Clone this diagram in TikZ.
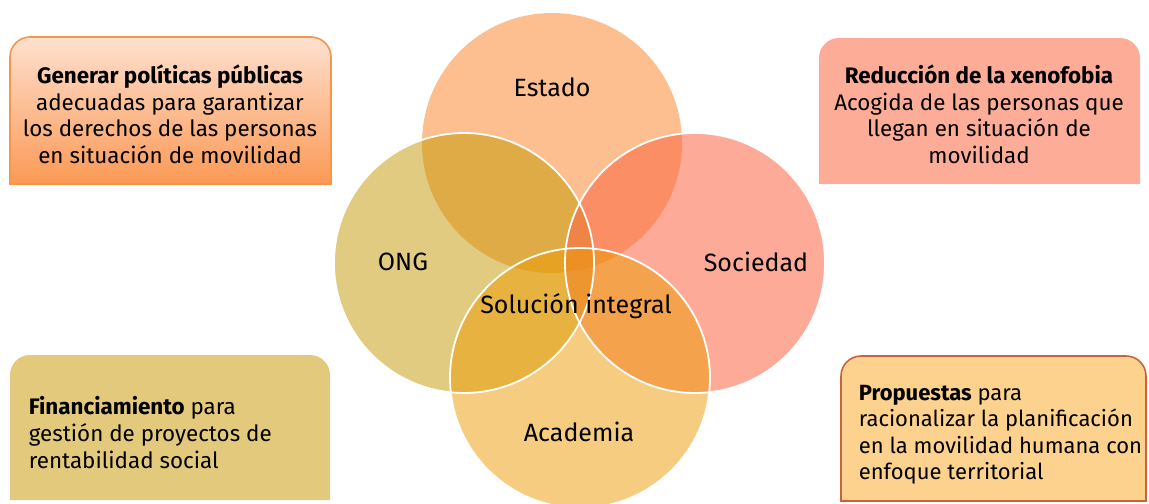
\documentclass[tikz,border=0pt]{standalone}
\usepackage{fontspec}
\setmainfont{Fira Sans}
\usepackage{tikz}
\usetikzlibrary{positioning}
\definecolor{fillEstado}{HTML}{FB7F1F}
\definecolor{fillOng}{HTML}{C39701}
\definecolor{fillSociedad}{HTML}{FB6644}
\definecolor{fillAcademia}{HTML}{ED9B01}
\definecolor{boxTopLight}{HTML}{FEE0CF}
\definecolor{boxTopDark}{HTML}{FB9955}
\definecolor{boxRimOrange}{HTML}{F79646}
\definecolor{boxSalmon}{HTML}{FDAD97}
\definecolor{boxKhaki}{HTML}{E2C97C}
\definecolor{boxSand}{HTML}{FDD28E}
\definecolor{boxRimRed}{HTML}{C8643C}

\begin{document}
\begin{tikzpicture}[x=0.5pt,y=-0.5pt,
  venn/.style={circle,minimum size=130pt,inner sep=0pt,fill opacity=0.5},
  rim/.style={draw=white,line width=0.9pt},
  vlbl/.style={font=\fontsize{12.5}{15}\selectfont,anchor=base,inner sep=0pt},
  btxt/.style={font=\fontsize{11.2}{13.3}\selectfont,inner sep=0pt},
  every path/.style={line width=0.8pt}
]
  \useasboundingbox (0,0) rectangle (1149,503);

  % --- the four actors, overlapping (half transparent) ---
  \node[venn,fill=fillEstado]   (estado)   at (552,143) {};
  \node[venn,fill=fillOng]      (ong)      at (464,263) {};
  \node[venn,fill=fillSociedad,fill opacity=0.55] (sociedad) at (695,263) {};
  \node[venn,fill=fillAcademia] (academia) at (580,378) {};
  \draw[rim] (ong.center)      circle[radius=130];
  \draw[rim] (sociedad.center) circle[radius=130];
  \draw[rim] (academia.center) circle[radius=130];

  \node[vlbl] (lEstado)   at (552,96)  {Estado};
  \node[vlbl] (lOng)      at (403,270) {ONG};
  \node[vlbl] (lSociedad) at (756,271) {Sociedad};
  \node[vlbl] (lAcademia) at (579,441) {Academia};
  \node[vlbl] (lSolucion) at (576,313) {Solución integral};

  % --- corner boxes (top corners rounded only) ---
  \path[top color=boxTopLight,bottom color=boxTopDark,draw=boxRimOrange]
    (10,110) [rounded corners=10pt] |- (331,37) -- (331,110) [sharp corners] |- (10,184) -- cycle;
  \fill[boxSalmon]
    (819,110) [rounded corners=10pt] |- (1140,38) -- (1140,110) [sharp corners] |- (819,184) -- cycle;
  \fill[boxKhaki]
    (10,430) [rounded corners=10pt] |- (330,355) -- (330,430) [sharp corners] |- (10,500) -- cycle;
  \path[fill=boxSand,draw=boxRimRed]
    (841,430) [rounded corners=10pt] |- (1146,356) -- (1146,430) [sharp corners] |- (841,501) -- cycle;

  \node[btxt,align=center,anchor=north] (tPoliticas) at (170,64)
    {\textbf{Generar políticas públicas}\\adecuadas para garantizar\\los derechos de las personas\\en situación de movilidad};
  \node[btxt,align=center,anchor=north] (tXenofobia) at (979,64)
    {\textbf{Reducción de la xenofobia}\\Acogida de las personas que\\llegan en situación de\\movilidad};
  \node[btxt,align=left,anchor=north west] (tFinanciamiento) at (28,396)
    {\textbf{Financiamiento} para\\gestión de proyectos de\\rentabilidad social};
  \node[btxt,align=left,anchor=north west,font=\fontsize{11}{13.3}\selectfont] (tPropuestas) at (858,384)
    {\textbf{Propuestas} para\\racionalizar la planificación\\en la movilidad humana con\\enfoque territorial};
\end{tikzpicture}
\end{document}
